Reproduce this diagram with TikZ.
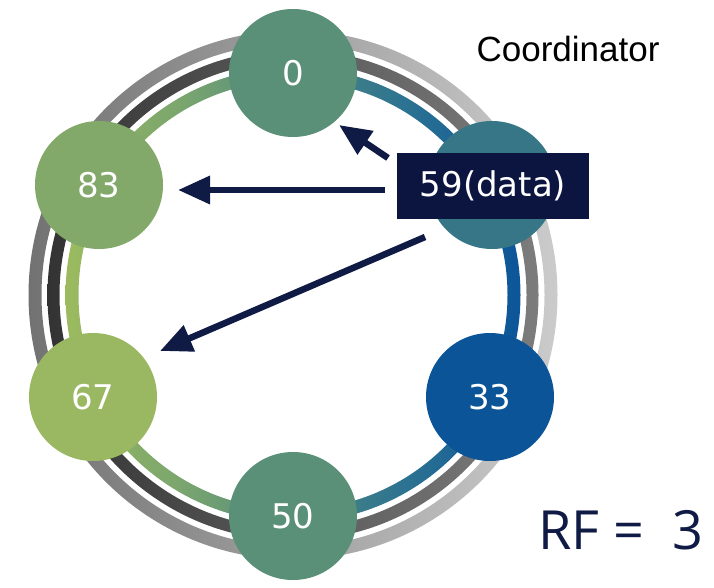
\documentclass[tikz,border=0pt]{standalone}
\usepackage{fontspec}
\setmainfont{Liberation Sans}
\newfontfamily\numfont{DejaVu Sans}
\newfontfamily\rffont{Open Sans}
\usetikzlibrary{arrows.meta}

\definecolor{cZero}{HTML}{5A8F78}
\definecolor{cEightThree}{HTML}{82A86A}
\definecolor{cSixSeven}{HTML}{9AB862}
\definecolor{cThreeThree}{HTML}{0A5497}
\definecolor{cFiveNine}{HTML}{377687}
\definecolor{boxcol}{HTML}{0C1540}
\definecolor{arrcol}{HTML}{0F1A45}

\definecolor{inA}{HTML}{9CBB5F}
\definecolor{inB}{HTML}{85AC68}
\definecolor{inC}{HTML}{7BA66E}
\definecolor{inD}{HTML}{4F8A7E}
\definecolor{inE}{HTML}{2C7292}
\definecolor{inF}{HTML}{0B5599}
\definecolor{outA}{HTML}{727272}
\definecolor{outB}{HTML}{A0A0A0}
\definecolor{outC}{HTML}{CBCBCB}
\definecolor{midA}{HTML}{333333}
\definecolor{midB}{HTML}{5A5A5A}
\definecolor{midC}{HTML}{7C7C7C}

\pgfdeclarehorizontalshading{innershade}{100bp}{color(0bp)=(inA); color(25bp)=(inA); color(33bp)=(inB); color(37.5bp)=(inC); color(50bp)=(inD); color(62.5bp)=(inE); color(75bp)=(inF); color(100bp)=(inF)}
\pgfdeclarehorizontalshading{outershade}{100bp}{color(0bp)=(outA); color(25bp)=(outA); color(50bp)=(outB); color(75bp)=(outC); color(100bp)=(outC)}
\pgfdeclarehorizontalshading{midshade}{100bp}{color(0bp)=(midA); color(25bp)=(midA); color(50bp)=(midB); color(75bp)=(midC); color(100bp)=(midC)}

\tikzset{
  ringnode/.style={circle, minimum size=128pt, inner sep=0pt, text=white,
    font=\numfont\fontsize{34pt}{40pt}\selectfont},
  databox/.style={rectangle, fill=boxcol, minimum width=192pt, minimum height=66pt,
    inner sep=0pt, text=white, font=\numfont\fontsize{34pt}{40pt}\selectfont},
  arr/.style={draw=arrcol, line width=6.5pt, -{Triangle[length=32pt,width=27pt]}}
}

\begin{document}
\begin{tikzpicture}[x=1pt,y=-1pt]
\useasboundingbox (0,0) rectangle (714,588);
\coordinate (c) at (293,295);

% rings
\shade[shading=outershade, even odd rule] (c) circle[radius=264.5pt] (c) circle[radius=251.5pt];
\shade[shading=midshade, even odd rule] (c) circle[radius=245.5pt] (c) circle[radius=233.5pt];
\shade[shading=innershade, even odd rule] (c) circle[radius=227.5pt] (c) circle[radius=214.5pt];

% nodes
\node[ringnode, fill=cZero] (n0) at (293,73) {0};
\node[ringnode, fill=cFiveNine] (n59) at (492,185) {};
\node[ringnode, fill=cThreeThree] (n33) at (490,397) {33};
\node[ringnode, fill=cZero] (n50) at (293,516) {50};
\node[ringnode, fill=cSixSeven] (n67) at (93,397) {67};
\node[ringnode, fill=cEightThree] (n83) at (99,185) {83};

\node[databox] (box) at (493,186) {59(data)};

% arrow end points
\coordinate (a0s) at (388,158);
\coordinate (a0e) at (339,125);
\coordinate (a83s) at (385,190);
\coordinate (a83e) at (178,190);
\coordinate (a67s) at (425,237);
\coordinate (a67e) at (160,351);

\draw[arr] (a0s) -- (a0e);
\draw[arr] (a83s) -- (a83e);
\draw[arr] (a67s) -- (a67e);

% texts
\node[anchor=base, font=\fontsize{35pt}{40pt}\selectfont, text=black, inner sep=0pt] (coord) at (568,62) {Coordinator};
\node[anchor=base west, font=\rffont\fontsize{54pt}{60pt}\selectfont, text=arrcol, inner sep=0pt] (rf) at (538,549) {RF =\ \ 3};
\end{tikzpicture}
\end{document}
